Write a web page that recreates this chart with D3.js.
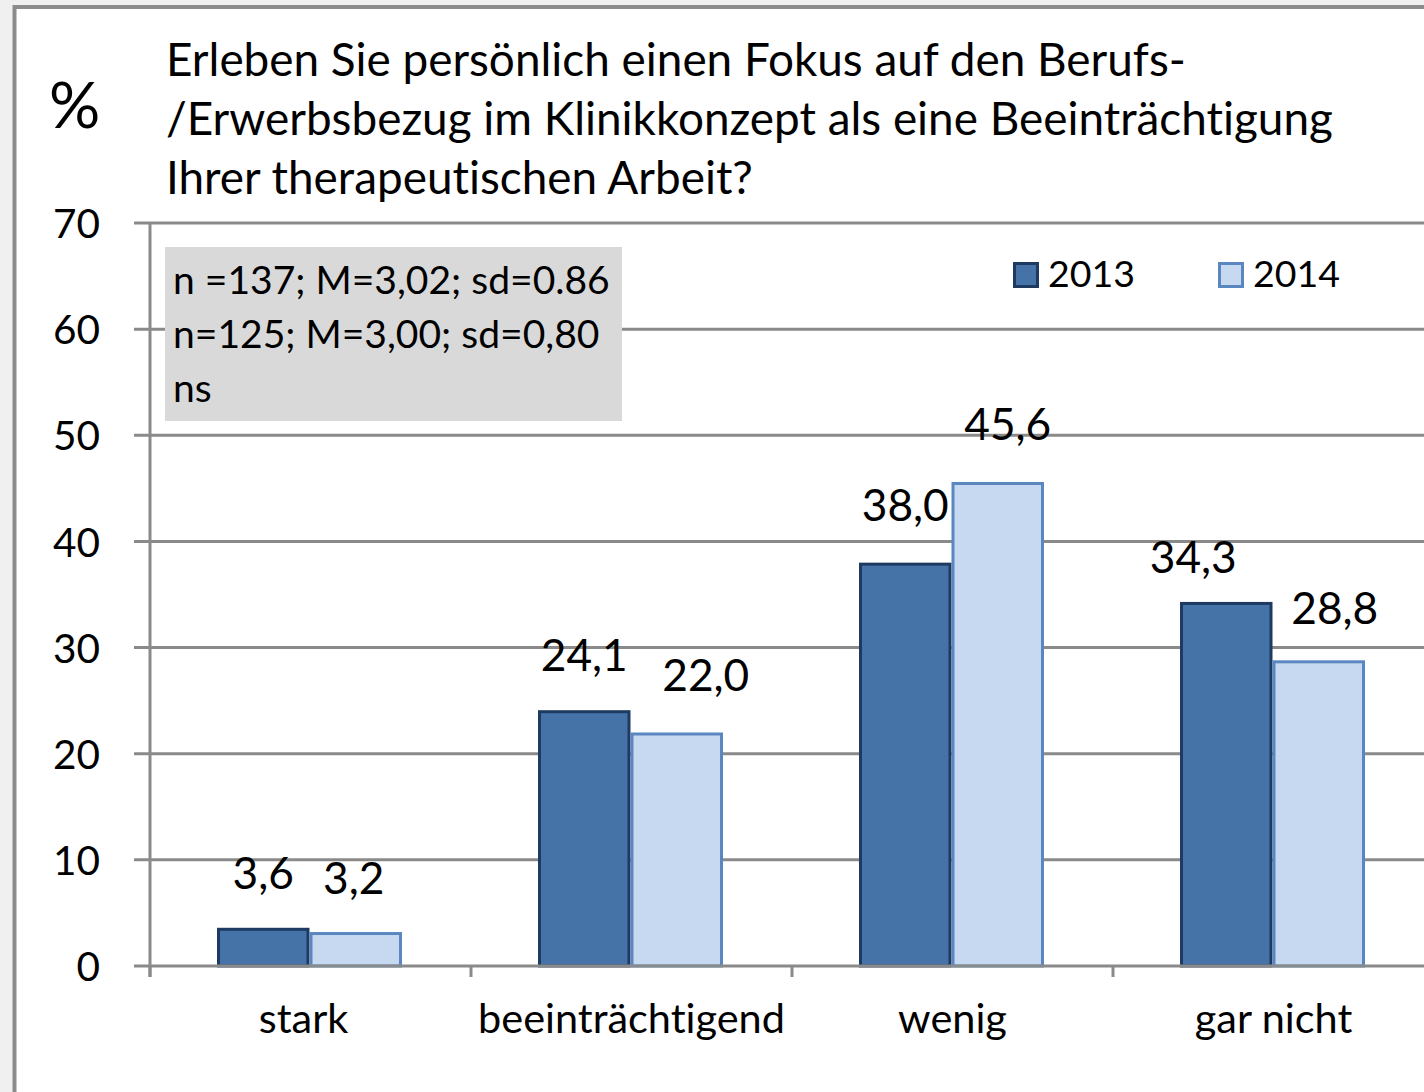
<!DOCTYPE html>
<html><head><meta charset="utf-8">
<script src="https://cdn.jsdelivr.net/npm/d3@7"></script>
<style>html,body{margin:0;padding:0;background:#f0f0f0;} svg{display:block;font-family:Lato, "Open Sans", sans-serif;font-variant-ligatures:none;font-feature-settings:"liga" 0, "clig" 0;} text{font-variant-ligatures:none;font-feature-settings:"liga" 0, "clig" 0;}</style>
</head><body><svg id="c" width="1424" height="1092"></svg>
<script>
// ---- data ----
const categories = ["stark", "beeinträchtigend", "wenig", "gar nicht"];
const seriesNames = ["2013", "2014"];
const values2013 = [3.6, 24.1, 38.0, 34.3];
const values2014 = [3.2, 22.0, 45.6, 28.8];
const yTicks = [0, 10, 20, 30, 40, 50, 60, 70];
const titleLines = [
  "Erleben Sie persönlich einen Fokus auf den Berufs-",
  "/Erwerbsbezug im Klinikkonzept als eine Beeinträchtigung",
  "Ihrer therapeutischen Arbeit?"
];
const statLines = ["n =137; M=3,02; sd=0.86", "n=125; M=3,00; sd=0,80", "ns"];
const yUnit = "%";

// ---- layout (label nudges, px) ----
const labelNudge2013 = [[0, 0], [0, 0], [0, -3], [-33, 10]];
const labelNudge2014 = [[-2, 1], [29, -2], [10, -3], [16, 3]];
const catLabelNudge = [-7, 0, 0, 0];

const colors = { "2013": { fill: "#4572a7", stroke: "#1f3a60" }, "2014": { fill: "#c6d9f0", stroke: "#5b87c1" } };
const gridColor = "#8a8a8a";

const svg = d3.select("#c");
const locale = d3.formatLocale({ decimal: ",", thousands: ".", grouping: [3], currency: ["", "€"] });
const fmt = locale.format(".1f");

// frame
svg.append("rect").attr("x", 14.5).attr("y", 7).attr("width", 1500).attr("height", 1200)
  .attr("fill", "#fff").attr("stroke", "#8c8c8c").attr("stroke-width", 4);

const y = d3.scaleLinear().domain([0, 70]).range([966, 223]);
const x = d3.scaleBand().domain(categories).range([150, 1434]).padding(0);
const x1 = d3.scaleBand().domain(seriesNames).range([67, 252]).padding(0);

function fit(sel, target) {
  const w = sel.node().getComputedTextLength();
  const fs = parseFloat(sel.attr("font-size"));
  return fs * target / w;
}

// gridlines
svg.append("g").selectAll("line").data(yTicks.filter(t => t > 0)).join("line")
  .attr("x1", 134).attr("x2", 1424).attr("y1", d => y(d)).attr("y2", d => y(d))
  .attr("stroke", gridColor).attr("stroke-width", 3);

// info box
svg.append("rect").attr("x", 165).attr("y", 247).attr("width", 457).attr("height", 174).attr("fill", "#d9d9d9");
const stat = svg.append("g").selectAll("text").data(statLines).join("text")
  .attr("x", 173).attr("y", (d, i) => [294, 348, 402][i]).attr("font-size", 40).attr("fill", "#000").text(d => d);
const statFs = fit(stat.filter((d, i) => i === 0), 437);
stat.attr("font-size", statFs);

// bars
const rows = categories.map((c, i) => ({ cat: c, vals: [values2013[i], values2014[i]] }));
const groups = svg.append("g").selectAll("g").data(rows).join("g")
  .attr("transform", d => `translate(${x(d.cat)},0)`);
groups.selectAll("rect").data(d => d.vals.map((v, j) => ({ s: seriesNames[j], v }))).join("rect")
  .attr("x", d => x1(d.s) + 1.5).attr("width", x1.bandwidth() - 3)
  .attr("y", d => y(d.v) + 1.5).attr("height", d => y(0) - y(d.v) - 1.5)
  .attr("fill", d => colors[d.s].fill).attr("stroke", d => colors[d.s].stroke).attr("stroke-width", 3);

// zero line, y axis line
svg.append("line").attr("x1", 134).attr("x2", 1424).attr("y1", y(0)).attr("y2", y(0)).attr("stroke", gridColor).attr("stroke-width", 3);
svg.append("line").attr("x1", 150).attr("x2", 150).attr("y1", y(70) - 1).attr("y2", 977).attr("stroke", gridColor).attr("stroke-width", 3);

// y axis labels via d3 axis
const yAxis = svg.append("g").attr("transform", "translate(150,0)")
  .call(d3.axisLeft(y).tickValues(yTicks).tickSize(0).tickPadding(50).tickFormat(d3.format("d")));
yAxis.select(".domain").remove();
yAxis.selectAll("text").attr("font-family", "Lato").attr("fill", "#000").attr("font-size", 44).attr("dy", null);
const tfs = fit(yAxis.selectAll("text").filter(d => d === 70), 47);
yAxis.selectAll("text").attr("font-size", tfs).attr("dy", (0.36 * tfs) + "px");

// x ticks at boundaries
const bounds = categories.map(c => x(c)).concat([x.range()[1]]);
svg.append("g").selectAll("line").data(bounds).join("line")
  .attr("x1", d => d).attr("x2", d => d).attr("y1", y(0)).attr("y2", 977)
  .attr("stroke", gridColor).attr("stroke-width", 3);

// category labels via axis
const xAxis = svg.append("g").attr("transform", `translate(0,${y(0)})`)
  .call(d3.axisBottom(x).tickSize(0).tickPadding(0));
xAxis.select(".domain").remove();
xAxis.selectAll("text").attr("font-family", "Lato").attr("fill", "#000").attr("font-size", 40).attr("dy", null).attr("y", 67)
  .attr("x", (d, i) => catLabelNudge[i]);
const cfs = fit(xAxis.selectAll("text").filter(d => d === "beeinträchtigend"), 307);
xAxis.selectAll("text").attr("font-size", cfs);

// value labels
const labels = [];
categories.forEach((c, i) => {
  labels.push({ s: "2013", c, v: values2013[i], n: labelNudge2013[i] });
  labels.push({ s: "2014", c, v: values2014[i], n: labelNudge2014[i] });
});
const vl = svg.append("g").selectAll("text").data(labels).join("text")
  .attr("text-anchor", "middle").attr("font-size", 44).attr("fill", "#000")
  .text(d => fmt(d.v));
const vfs = fit(vl.filter(d => d.v === 24.1), 87);
vl.attr("font-size", vfs)
  .attr("x", d => x(d.c) + x1(d.s) + x1.bandwidth() / 2 + d.n[0])
  .attr("y", d => y(d.v) - 55 + d.n[1] + 0.36 * vfs);

// legend
const legX = { "2013": 1013, "2014": 1218 };
const leg = svg.append("g").selectAll("g").data(seriesNames).join("g");
leg.append("rect").attr("x", d => legX[d] + 1.5).attr("y", 263.5).attr("width", 23).attr("height", 23)
  .attr("fill", d => colors[d].fill).attr("stroke", d => colors[d].stroke).attr("stroke-width", 3);
const lt = leg.append("text").attr("x", d => legX[d] + 35).attr("y", 287).attr("font-size", 40).attr("fill", "#000").text(d => d);
const lfs = fit(lt.filter(d => d === "2013"), 87);
lt.attr("font-size", lfs);

// title
const tl = svg.append("g").selectAll("text").data(titleLines).join("text")
  .attr("x", 166).attr("y", (d, i) => [76, 135, 194][i]).attr("font-size", 38).attr("fill", "#000").text(d => d);
const tlfs = fit(tl.filter((d, i) => i === 1), 1167);
tl.attr("font-size", tlfs);

// unit
svg.append("text").attr("x", 49).attr("y", 128).attr("font-size", 64).attr("fill", "#000").text(yUnit);
</script></body></html>
